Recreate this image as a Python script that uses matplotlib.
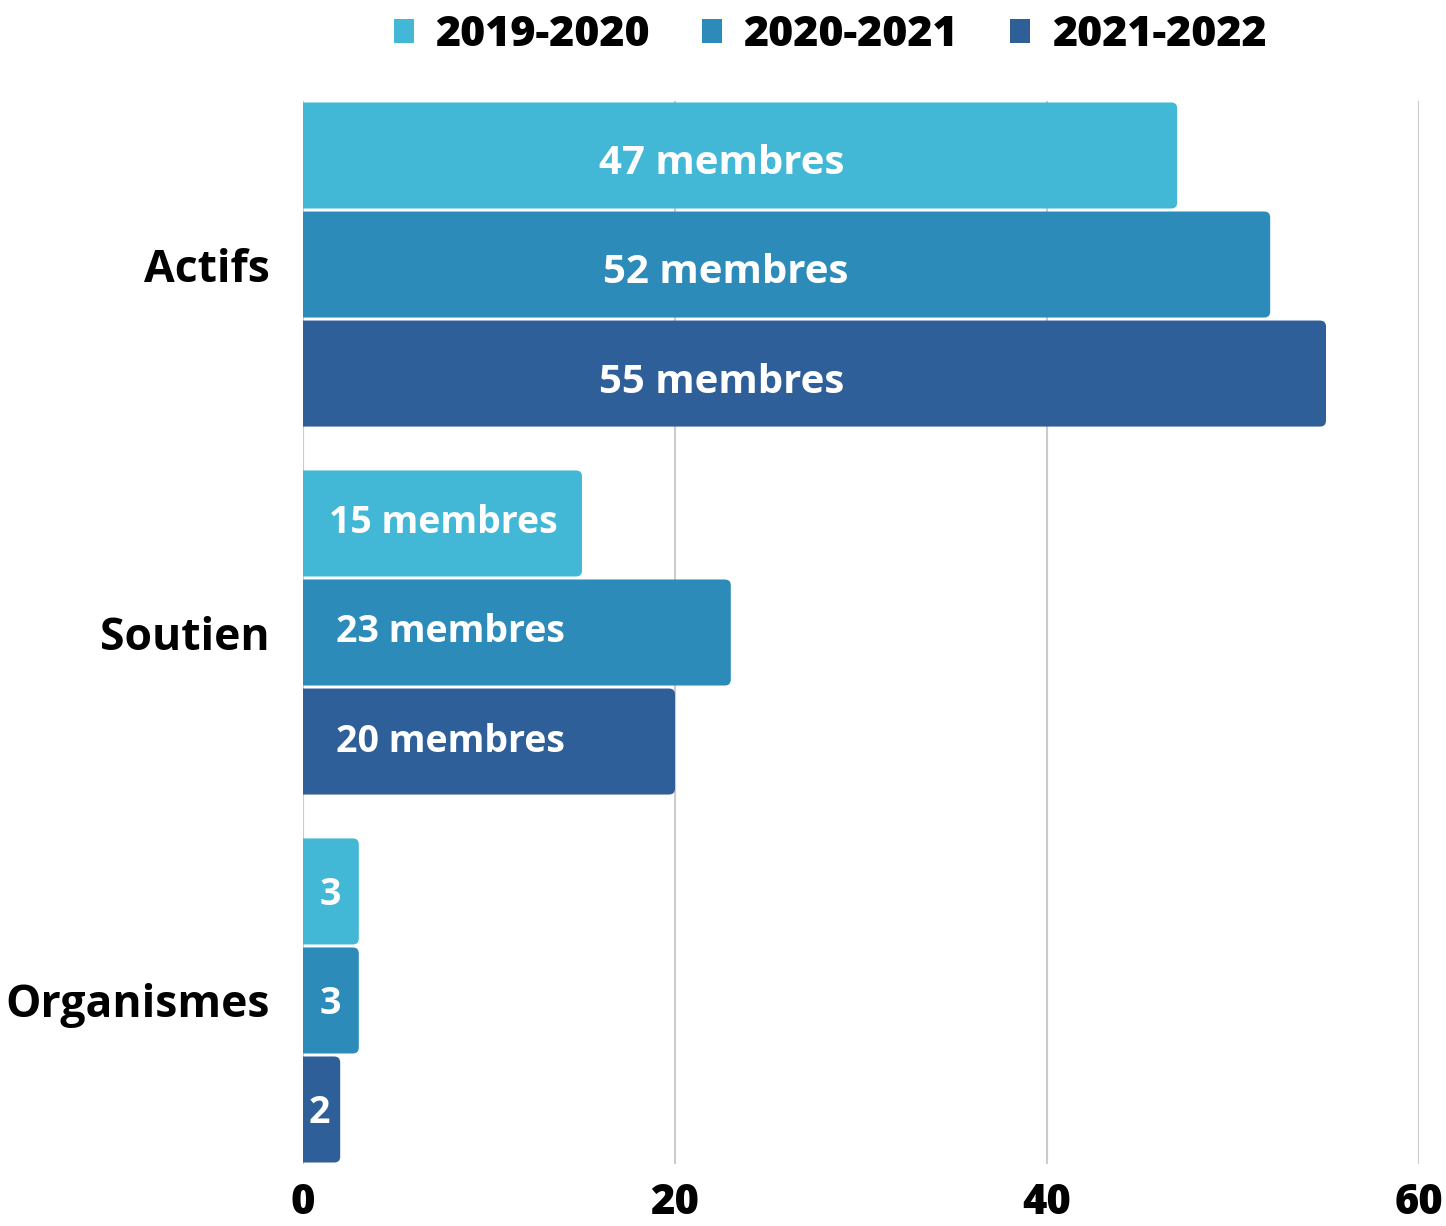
import matplotlib
matplotlib.use('Agg')
import matplotlib.pyplot as plt
from matplotlib.patches import FancyBboxPatch, Patch
import numpy as np

plt.rcParams['font.family'] = ['Open Sans', 'DejaVu Sans']

# data
categories = ['Actifs', 'Soutien', 'Organismes']
seasons = ['2019-2020', '2020-2021', '2021-2022']
values = {
    '2019-2020': [47, 15, 3],
    '2020-2021': [52, 23, 3],
    '2021-2022': [55, 20, 2],
}
bar_labels = {
    '2019-2020': ['47 membres', '15 membres', '3'],
    '2020-2021': ['52 membres', '23 membres', '3'],
    '2021-2022': ['55 membres', '20 membres', '2'],
}
colors = ['#42b7d6', '#2d8bba', '#2e5f98']

# where the labels sit inside the bars (x in data units), as in the original
label_x = {
    '2019-2020': [22.5, 7.55, 1.45],
    '2020-2021': [22.7, 7.9, 1.45],
    '2021-2022': [22.5, 7.9, 0.86],
}
label_size = [29, 27, 27]
label_dy = [0.023, 0.0, 0.01]

fig = plt.figure(figsize=(14.46, 12.26), dpi=100)
ax = fig.add_axes([303 / 1446, 1 - 1164 / 1226, (1419 - 303) / 1446, (1164 - 101) / 1226])

slot = 0.8889 / 3
bh = slot - 3 / 368
ypos = np.arange(len(categories))

# px -> data scaling for rounded corners
x_per_px = 60 / (1419 - 303)
y_per_px = 1 / 368.0

for j, s in enumerate(seasons):
    for i, v in enumerate(values[s]):
        yc = ypos[i] - slot + j * slot
        box = FancyBboxPatch((-2, yc - bh / 2), v + 2, bh,
                             boxstyle='round,pad=0,rounding_size=%f' % (6 * x_per_px),
                             mutation_aspect=y_per_px / x_per_px,
                             facecolor=colors[j], edgecolor='none', zorder=3)
        ax.add_patch(box)
        ax.text(label_x[s][i], yc + label_dy[i], bar_labels[s][i], color='white',
                fontsize=label_size[i], fontweight='bold', ha='center', va='center', zorder=4)

for g in [0, 20, 40, 60]:
    ax.axvline(g, color='#cccccc', lw=1.5, zorder=1)

ax.set_xlim(0, 60)
ax.set_ylim(2.4444, -0.4444)
ax.set_xticks([0, 20, 40, 60])
ax.set_xticklabels(['0', '20', '40', '60'], fontsize=30, fontweight=800)
ax.tick_params(axis='x', length=0, pad=13)
ax.set_yticks(ypos)
ax.set_yticklabels(categories, fontsize=32, fontweight='bold')
ax.tick_params(axis='y', length=0, pad=24)
for sp in ax.spines.values():
    sp.set_visible(False)

handles = [Patch(facecolor=c, edgecolor='none') for c in colors]
leg = fig.legend(handles, seasons, loc='center', bbox_to_anchor=(0.574, 1 - 35 / 1226),
                 ncol=3, frameon=False, handlelength=0.47, handleheight=0.47,
                 handletextpad=0.5, columnspacing=1.2,
                 prop={'size': 31, 'weight': 800})

fig.savefig('out.png', dpi=100)
